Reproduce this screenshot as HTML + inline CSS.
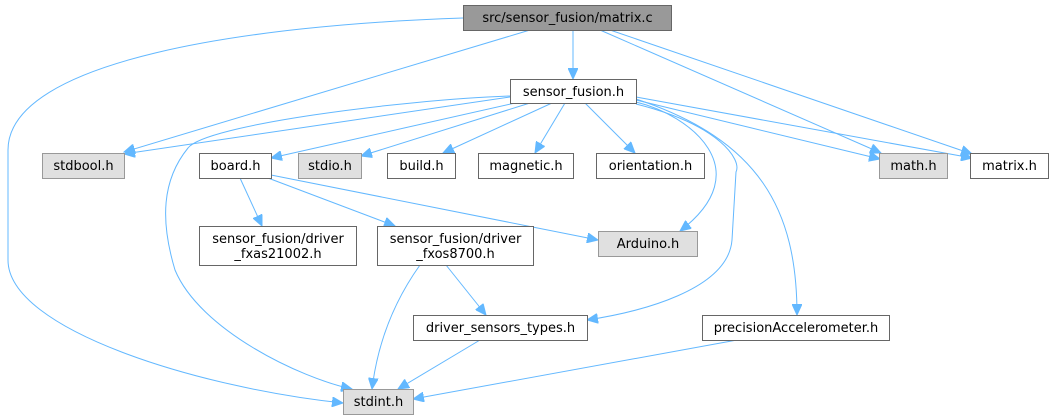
<!DOCTYPE html>
<html><head><meta charset="utf-8"><style>
html,body{margin:0;padding:0;background:#fff;}
svg{display:block;}
text{font-family:"DejaVu Sans","Liberation Sans",sans-serif;font-size:13px;fill:#000;}
.n{fill:#fff;stroke:#666;stroke-width:1;}
.g{fill:#e0e0e0;stroke:#999;stroke-width:1;}
.e{fill:none;stroke:#63b8ff;stroke-width:1;}
</style></head><body>
<svg width="1055" height="417" viewBox="0 0 1055 417" xmlns="http://www.w3.org/2000/svg">
<defs><marker id="a" markerWidth="12" markerHeight="10" refX="11" refY="5" orient="auto" markerUnits="userSpaceOnUse"><path d="M0,0 L11,5 L0,10 z" fill="#63b8ff" stroke="#63b8ff"/></marker></defs>
<g class="e" marker-end="url(#a)">
<path d="M463,18 C250,25 8,60 8,150 L8,260 C8,330 200,388 343,403"/>
<path d="M530,30 L124,152"/>
<path d="M573,30 L573,79"/>
<path d="M600,30 L881,153"/>
<path d="M610,30 L972,154"/>
<path d="M510,97 L124,154"/>
<path d="M515,103 L271,158"/>
<path d="M530,103 L361,156"/>
<path d="M552,103 L443,153"/>
<path d="M565,103 L535,153"/>
<path d="M585,103 L635,153"/>
<path d="M636,100 L880,159"/>
<path d="M636,97 L972,158"/>
<path d="M636,102 C690,115 760,170 680,231"/>
<path d="M636,104 C720,125 742,160 736,172 L732,240 C728,290 640,312 587,320"/>
<path d="M636,99 C760,140 797,210 797,315"/>
<path d="M510,96 C400,100 205,125 188,148 C162,180 160,220 175,270 C200,330 300,378 352,389"/>
<path d="M240,178 L262,226"/>
<path d="M268,178 L395,226"/>
<path d="M271,175 L598,240"/>
<path d="M420,265 C395,300 378,340 372,389"/>
<path d="M446,265 L486,315"/>
<path d="M480,340 L398,389"/>
<path d="M737,340 L413,399"/>
</g>
<rect x="463.5" y="5.5" width="208" height="25" fill="#999" stroke="#666"/>
<text x="567.5" y="22" text-anchor="middle">src/sensor_fusion/matrix.c</text>
<rect class="n" x="510.5" y="79.5" width="126" height="24"/><text x="573.5" y="96" text-anchor="middle">sensor_fusion.h</text>
<rect class="g" x="42.5" y="153.5" width="82" height="25"/><text x="83.5" y="170" text-anchor="middle">stdbool.h</text>
<rect class="n" x="199.5" y="153.5" width="72" height="25"/><text x="235.5" y="170" text-anchor="middle">board.h</text>
<rect class="g" x="298.5" y="153.5" width="63" height="25"/><text x="330" y="170" text-anchor="middle">stdio.h</text>
<rect class="n" x="387.5" y="153.5" width="68" height="25"/><text x="421.5" y="170" text-anchor="middle">build.h</text>
<rect class="n" x="478.5" y="153.5" width="95" height="25"/><text x="526" y="170" text-anchor="middle">magnetic.h</text>
<rect class="n" x="596.5" y="153.5" width="108" height="25"/><text x="650.5" y="170" text-anchor="middle">orientation.h</text>
<rect class="g" x="879.5" y="153.5" width="68" height="25"/><text x="913.5" y="170" text-anchor="middle">math.h</text>
<rect class="n" x="970.5" y="153.5" width="78" height="25"/><text x="1009.5" y="170" text-anchor="middle">matrix.h</text>
<rect class="n" x="199.5" y="226.5" width="157" height="39"/><text x="278" y="243" text-anchor="middle">sensor_fusion/driver</text><text x="278" y="258" text-anchor="middle">_fxas21002.h</text>
<rect class="n" x="377.5" y="226.5" width="156" height="39"/><text x="455.5" y="243" text-anchor="middle">sensor_fusion/driver</text><text x="455.5" y="258" text-anchor="middle">_fxos8700.h</text>
<rect class="g" x="598.5" y="231.5" width="99" height="25"/><text x="648" y="248" text-anchor="middle">Arduino.h</text>
<rect class="n" x="413.5" y="315.5" width="174" height="25"/><text x="500.5" y="332" text-anchor="middle">driver_sensors_types.h</text>
<rect class="n" x="702.5" y="315.5" width="187" height="25"/><text x="796" y="332" text-anchor="middle">precisionAccelerometer.h</text>
<rect class="g" x="343.5" y="389.5" width="70" height="25"/><text x="378.5" y="406" text-anchor="middle">stdint.h</text>
</svg>
</body></html>
